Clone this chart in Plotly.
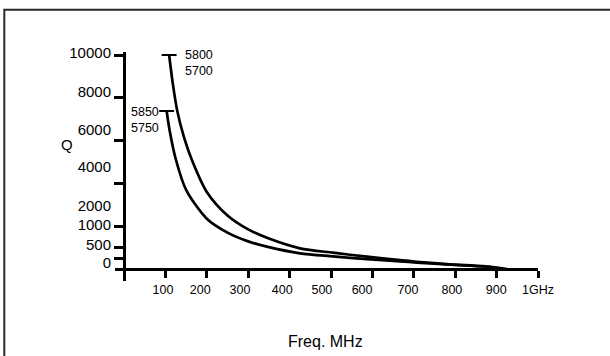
import plotly.graph_objects as go

# ---- data ----
freq_5800 = [109, 118, 128.7, 145, 164, 200, 250, 300, 350, 425, 505, 587, 667, 707, 787, 867, 905, 925]
q_5800 = [10000, 8650, 7383, 6150, 5093, 3600, 2500, 1850, 1420, 967, 762, 575, 420, 340, 220, 130, 55, 0]

freq_5850 = [103, 110, 125.6, 150, 200, 250, 300, 350, 425, 505, 587, 667, 707, 787, 867, 900, 918]
q_5850 = [7383, 6500, 5093, 3700, 2350, 1700, 1290, 1020, 734, 590, 460, 360, 300, 200, 120, 45, 0]

# short horizontal marks at the top of each curve
bar_5800_f = [91, 127]
bar_5800_q = [10000, 10000]
bar_5850_f = [85, 121]
bar_5850_q = [7383, 7383]

label_5800 = "5800<br>5700"
label_5850 = "5850<br>5750"

# axis ticks / labels
x_tick_vals = [100, 200, 300, 400, 500, 600, 700, 800, 900, 1000]
x_label_pos = [94, 184, 280, 382, 478, 575, 686, 792, 899, 1000]
x_label_text = ["100", "200", "300", "400", "500", "600", "700", "800", "900", "1GHz"]

y_tick_vals = [500, 1000, 2000, 4000, 6000, 8000, 10000]
y_label_pos = [10093, 8280, 6495, 4780, 2977, 2056, 1121, 313]
y_label_text = ["10000", "8000", "6000", "4000", "2000", "1000", "500", "0"]

x_range = [-21.74, 1000]
y_range = [-560.7, 10140]

W, H = 610, 356
FONT = "Arial, Liberation Sans, sans-serif"

fig = go.Figure()
line_style = dict(color="black", width=2.7)
fig.add_trace(go.Scatter(x=freq_5800, y=q_5800, mode="lines", line=dict(**line_style, shape="spline", smoothing=0.8),
                         showlegend=False, hoverinfo="skip"))
fig.add_trace(go.Scatter(x=freq_5850, y=q_5850, mode="lines", line=dict(**line_style, shape="spline", smoothing=0.8),
                         showlegend=False, hoverinfo="skip"))
fig.add_trace(go.Scatter(x=bar_5800_f, y=bar_5800_q, mode="lines", line=dict(color="black", width=2),
                         showlegend=False, hoverinfo="skip"))
fig.add_trace(go.Scatter(x=bar_5850_f, y=bar_5850_q, mode="lines", line=dict(color="black", width=2),
                         showlegend=False, hoverinfo="skip"))
# invisible trace so the label-only overlay axes are drawn
fig.add_trace(go.Scatter(x=[x_label_pos[0]], y=[y_label_pos[-1]], xaxis="x2", yaxis="y2", mode="markers",
                         marker=dict(opacity=0), showlegend=False, hoverinfo="skip"))

x_dom = [115 / W, 538 / W]
y_dom = [1 - 281 / H, 1 - 52 / H]
x_pos = 1 - 269 / H
y_pos = 124 / W

common = dict(showgrid=False, zeroline=False, fixedrange=True, automargin=False)

fig.update_layout(
    width=W, height=H, autosize=False,
    margin=dict(l=0, r=0, t=0, b=0, pad=0),
    paper_bgcolor="white", plot_bgcolor="white",
    font=dict(family=FONT, color="black"),
    xaxis=dict(domain=x_dom, range=x_range, anchor="free", position=x_pos,
               showline=True, linecolor="black", linewidth=3,
               ticks="outside", ticklen=7, tickwidth=3, tickcolor="black",
               tickvals=x_tick_vals, showticklabels=False, **common),
    xaxis2=dict(overlaying="x", range=x_range, anchor="free", position=x_pos, side="bottom",
                showline=False, ticks="", tickmode="array", tickvals=x_label_pos, ticktext=x_label_text,
                showticklabels=True,
                tickfont=dict(size=12.5, family=FONT, color="black"), ticklabelstandoff=11, **common),
    yaxis=dict(domain=y_dom, range=y_range, anchor="free", position=y_pos,
               showline=True, linecolor="black", linewidth=3,
               ticks="outside", ticklen=9, tickwidth=2.5, tickcolor="black",
               tickvals=y_tick_vals, showticklabels=False, **common),
    yaxis2=dict(overlaying="y", range=y_range, anchor="free", position=y_pos, side="left",
                showline=False, ticks="", tickmode="array", tickvals=y_label_pos, ticktext=y_label_text,
                showticklabels=True,
                tickfont=dict(size=15, family=FONT, color="black"), ticklabelstandoff=13, **common),
    shapes=[dict(type="rect", xref="paper", yref="paper",
                 x0=4.3 / W, x1=1.05, y0=-0.05, y1=1 - 9.7 / H,
                 line=dict(color="#2a2a2a", width=2), layer="below")],
    annotations=[
        dict(x=143, y=9640, xref="x", yref="y", text=label_5800, showarrow=False,
             xanchor="left", yanchor="middle", align="left", font=dict(size=12.5, family=FONT)),
        dict(x=12.1, y=6972, xref="x", yref="y", text=label_5850, showarrow=False,
             xanchor="left", yanchor="middle", align="left", font=dict(size=12.5, family=FONT)),
        dict(x=66.5 / W, y=1 - 145 / H, xref="paper", yref="paper", text="Q", showarrow=False,
             xanchor="center", yanchor="middle", font=dict(size=15, family=FONT)),
        dict(x=325 / W, y=1 - 341 / H, xref="paper", yref="paper", text="Freq. MHz", showarrow=False,
             xanchor="center", yanchor="middle", font=dict(size=16, family=FONT)),
    ],
)

fig.write_html("out.html", config={"displayModeBar": False})
